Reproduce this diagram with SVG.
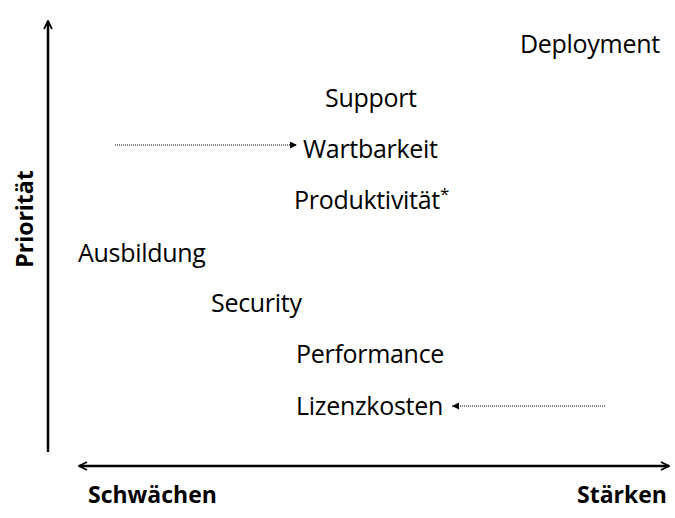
<svg xmlns="http://www.w3.org/2000/svg" width="675" height="518" viewBox="0 0 675 518">
<defs>
<style>
.lbl{font-family:"Open Sans","Noto Sans",sans-serif;font-size:25px;fill:#000;letter-spacing:-0.3px}
.ax{font-family:"Open Sans","Noto Sans",sans-serif;font-size:23px;font-weight:bold;fill:#000}
.axis{stroke:#000;stroke-width:2.5;fill:none}
.dot{stroke:#000;stroke-width:1;stroke-dasharray:1 1;fill:none}
</style>
<marker id="open" viewBox="0 0 10 10" refX="9" refY="5" markerWidth="10" markerHeight="10" markerUnits="userSpaceOnUse" orient="auto-start-reverse">
<path d="M1,1 L9,5 L1,9" fill="none" stroke="#000" stroke-width="1.8"/>
</marker>
<marker id="tri" viewBox="0 0 10 10" refX="10" refY="5" markerWidth="7" markerHeight="7" markerUnits="userSpaceOnUse" orient="auto">
<path d="M0,0 L10,5 L0,10 Z" fill="#000"/>
</marker>
</defs>
<rect width="675" height="518" fill="#fff"/>
<g id="connectors">
<line class="axis" x1="48" y1="452" x2="48" y2="21" marker-end="url(#open)"/>
<line class="axis" x1="79" y1="466" x2="669" y2="466" marker-start="url(#open)" marker-end="url(#open)"/>
<line class="dot" x1="115" y1="145" x2="297" y2="145" marker-end="url(#tri)"/>
<line class="dot" x1="605" y1="406" x2="452" y2="406" marker-end="url(#tri)"/>
</g>
<g id="axis-y-label"><text class="ax" transform="translate(33,219) rotate(-90)" text-anchor="middle">Priorität</text></g>
<g id="axis-x-left"><text class="ax" x="88" y="503">Schwächen</text></g>
<g id="axis-x-right"><text class="ax" x="667" y="503" text-anchor="end">Stärken</text></g>
<g id="deployment"><text class="lbl" x="520" y="53">Deployment</text></g>
<g id="support"><text class="lbl" x="325" y="107">Support</text></g>
<g id="wartbarkeit"><text class="lbl" x="303" y="158">Wartbarkeit</text></g>
<g id="produktivitaet"><text class="lbl" x="294" y="209">Produktivität<tspan font-size="17" dy="-9">*</tspan></text></g>
<g id="ausbildung"><text class="lbl" x="78" y="262">Ausbildung</text></g>
<g id="security"><text class="lbl" x="211" y="312">Security</text></g>
<g id="performance"><text class="lbl" x="296" y="363">Performance</text></g>
<g id="lizenzkosten"><text class="lbl" x="296" y="415">Lizenzkosten</text></g>
</svg>
